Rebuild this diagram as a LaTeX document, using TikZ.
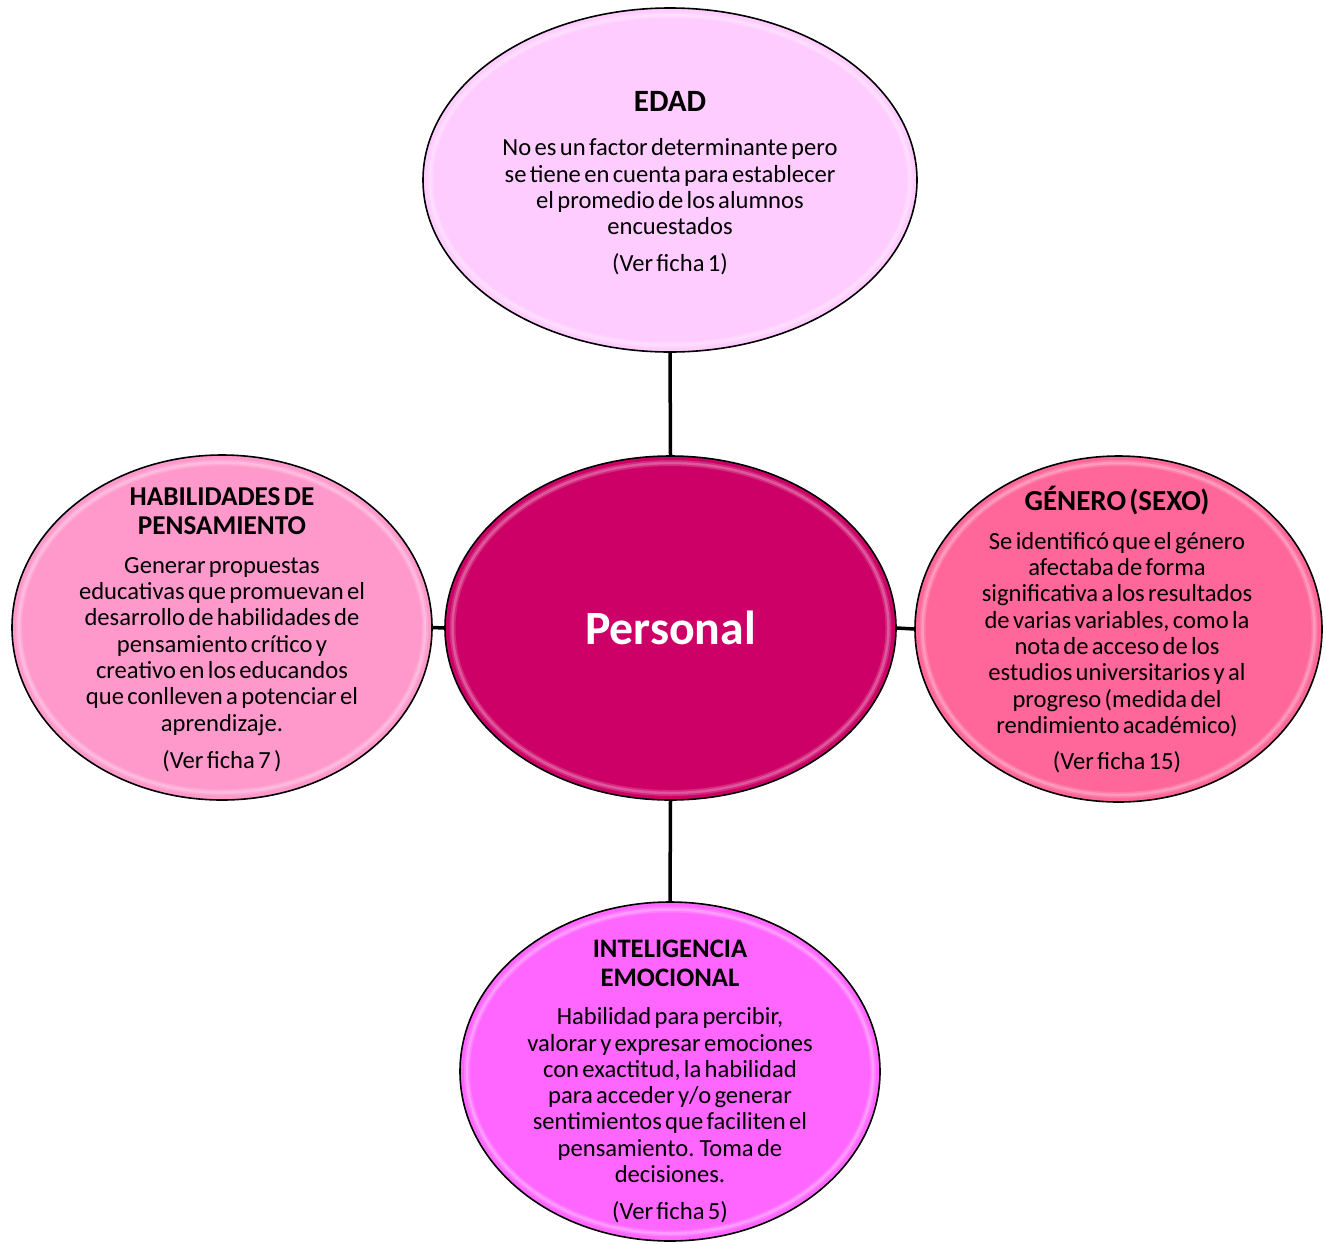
\documentclass[tikz,border=0pt]{standalone}
\usepackage{fontspec}
\setmainfont{Carlito}
\usetikzlibrary{shapes.geometric}
\definecolor{cEdad}{HTML}{FFCCFF}
\definecolor{cCen}{HTML}{CC0066}
\definecolor{cHab}{HTML}{FF99CC}
\definecolor{cGen}{HTML}{FF6699}
\definecolor{cInt}{HTML}{FF66FF}
\newcommand\titl[1]{\bfseries\fontsize{#1}{29}\selectfont\rule{0pt}{26pt}}
\newcommand\bod{\normalfont\fontsize{24.6}{26.3}\selectfont}
\begin{document}
\begin{tikzpicture}[x=1pt,y=-1pt,
  bub/.style={ellipse, draw=black, line width=1.6pt, inner sep=0pt},
  txt/.style={anchor=north, inner sep=0pt, text width=#1, align=center},
  gloss/.style={white, opacity=.16, line width=6pt},
  glossin/.style={white, opacity=.22, line width=2.5pt},
  link/.style={line width=3.5pt}]
\useasboundingbox (0,0) rectangle (1326,1243);
\fill[white] (0,0) rectangle (1326,1243);
% bubbles
\node[bub, fill=cEdad, minimum width=494pt, minimum height=344pt] (edad) at (670,180) {};
\node[bub, fill=cHab, minimum width=420pt, minimum height=345pt] (hab) at (222,627.5) {};
\node[bub, fill=cGen, minimum width=407pt, minimum height=346pt] (gen) at (1118.5,629) {};
\node[bub, fill=cInt, minimum width=420pt, minimum height=339pt] (int) at (670,1071.5) {};
\node[bub, fill=cCen, minimum width=451pt, minimum height=344pt, text=white,
      font=\bfseries\fontsize{47.8}{56}\selectfont] (pers) at (670.5,628) {Personal};
% gloss rims
\foreach \n/\rx/\ry in {edad/240/165, hab/203/165, gen/196/166, int/203/162, pers/218/165}{
  \draw[gloss] (\n.center) ellipse [x radius=\rx pt, y radius=\ry pt];
  \draw[glossin] (\n.center) ellipse [x radius=\rx pt, y radius=\ry pt];
}
% connectors
\draw[link] (edad.south) -- (pers.north);
\draw[link] (pers.south) -- (int.north);
\draw[link] (hab.east) -- (pers.west);
\draw[link] (pers.east) -- (gen.west);
% texts
\node[txt=460pt] (edadT) at (670,85.7) {\titl{31}EDAD\par\vspace{17.7pt}
\bod No es un factor determinante pero\\ se tiene en cuenta para establecer\\ el promedio de los alumnos\\ encuestados\par\vspace{10.7pt}
(Ver ficha 1)\par};
\node[txt=410pt] (habT) at (222,479) {\titl{27.2}HABILIDADES DE\\ PENSAMIENTO\par\vspace{12.7pt}
\bod Generar propuestas\\ educativas que promuevan el\\ desarrollo de habilidades de\\ pensamiento crítico y\\ creativo en los educandos\\ que conlleven a potenciar el\\ aprendizaje.\par\vspace{10.7pt}
(Ver ficha 7 )\par};
\node[txt=400pt] (genT) at (1117,484) {\titl{29}GÉNERO (SEXO)\par\vspace{12.7pt}
\bod Se identificó que el género\\ afectaba de forma\\ significativa a los resultados\\ de varias variables, como la\\ nota de acceso de los\\ estudios universitarios y al\\ progreso (medida del\\ rendimiento académico)\par\vspace{10.2pt}
(Ver ficha 15)\par};
\node[txt=410pt] (intT) at (670,931.5) {\titl{26.7}INTELIGENCIA\\ EMOCIONAL\par\vspace{11.7pt}
\bod Habilidad para percibir,\\ valorar y expresar emociones\\ con exactitud, la habilidad\\ para acceder y/o generar\\ sentimientos que faciliten el\\ pensamiento. Toma de\\ decisiones.\par\vspace{10.2pt}
(Ver ficha 5)\par};
\end{tikzpicture}
\end{document}
